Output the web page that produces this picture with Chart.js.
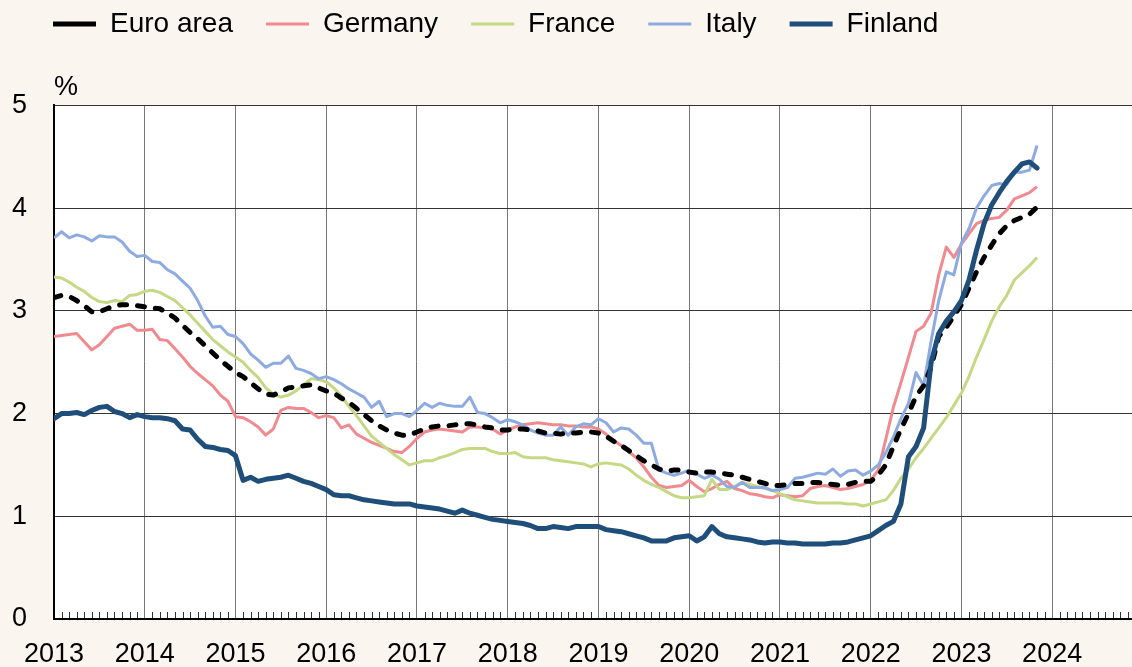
<!DOCTYPE html>
<html>
<head>
<meta charset="utf-8">
<script src="https://cdn.jsdelivr.net/npm/chart.js@4/dist/chart.umd.min.js"></script>
<style>
  html, body { margin: 0; padding: 0; background: #faf5ef; }
  canvas { display: block; }
</style>
</head>
<body>
<canvas id="rateChart" width="1132" height="667"></canvas>
<script>
// Monthly values, Jan 2013 - Nov 2023 (%)
const startYear = 2013;
const yearTicks = [2013, 2014, 2015, 2016, 2017, 2018, 2019, 2020, 2021, 2022, 2023, 2024];
const valueTicks = [0, 1, 2, 3, 4, 5];

const euroArea = [
  3.13, 3.15, 3.14, 3.10, 3.05, 2.99, 2.99, 3.02, 3.05, 3.06, 3.06, 3.05,
  3.04, 3.03, 3.02, 2.98, 2.93, 2.86, 2.79, 2.73, 2.66, 2.59, 2.52, 2.46,
  2.40, 2.36, 2.30, 2.24, 2.19, 2.18, 2.21, 2.25, 2.26, 2.27, 2.28, 2.25,
  2.22, 2.20, 2.15, 2.11, 2.05, 1.99, 1.93, 1.88, 1.84, 1.81, 1.79, 1.79,
  1.82, 1.85, 1.87, 1.88, 1.88, 1.89, 1.90, 1.90, 1.89, 1.87, 1.86, 1.84,
  1.84, 1.85, 1.85, 1.84, 1.83, 1.81, 1.81, 1.80, 1.81, 1.81, 1.82, 1.82,
  1.81, 1.78, 1.73, 1.69, 1.64, 1.59, 1.54, 1.50, 1.46, 1.44, 1.45, 1.45,
  1.43, 1.42, 1.43, 1.43, 1.42, 1.41, 1.40, 1.38, 1.36, 1.34, 1.32, 1.30,
  1.30, 1.31, 1.32, 1.32, 1.33, 1.33, 1.32, 1.31, 1.30, 1.31, 1.33, 1.34,
  1.34, 1.40, 1.50, 1.68, 1.85, 2.00, 2.17, 2.27, 2.45, 2.75, 2.84, 2.95,
  3.06, 3.22, 3.38, 3.52, 3.64, 3.75, 3.83, 3.88, 3.91, 3.94, 4.01
];
const germany = [
  2.75, 2.76, 2.77, 2.78, 2.70, 2.62, 2.67, 2.75, 2.83, 2.85, 2.87, 2.81,
  2.81, 2.82, 2.72, 2.71, 2.63, 2.55, 2.46, 2.39, 2.33, 2.27, 2.18, 2.12,
  1.97, 1.96, 1.92, 1.87, 1.79, 1.85, 2.03, 2.06, 2.05, 2.05, 2.01, 1.96,
  1.98, 1.96, 1.86, 1.89, 1.80, 1.76, 1.72, 1.69, 1.66, 1.63, 1.62, 1.68,
  1.76, 1.82, 1.84, 1.85, 1.84, 1.83, 1.82, 1.87, 1.87, 1.86, 1.85, 1.80,
  1.84, 1.87, 1.89, 1.90, 1.91, 1.90, 1.89, 1.89, 1.88, 1.88, 1.87, 1.87,
  1.85, 1.80, 1.74, 1.69, 1.63, 1.57, 1.48, 1.38, 1.30, 1.28, 1.29, 1.30,
  1.35, 1.29, 1.24, 1.27, 1.31, 1.34, 1.27, 1.25, 1.22, 1.21, 1.19, 1.18,
  1.21, 1.20, 1.19, 1.20, 1.27, 1.29, 1.30, 1.28, 1.26, 1.27, 1.29, 1.31,
  1.35, 1.45, 1.75, 2.06, 2.30, 2.55, 2.80, 2.85, 2.98, 3.35, 3.62, 3.52,
  3.65, 3.75, 3.85, 3.88, 3.90, 3.91, 3.98, 4.09, 4.12, 4.15, 4.21
];
const france = [
  3.33, 3.32, 3.28, 3.23, 3.19, 3.13, 3.09, 3.08, 3.10, 3.09, 3.15, 3.16,
  3.19, 3.20, 3.18, 3.14, 3.10, 3.03, 2.96, 2.88, 2.80, 2.72, 2.66, 2.60,
  2.55, 2.50, 2.42, 2.35, 2.25, 2.19, 2.16, 2.18, 2.22, 2.28, 2.34, 2.33,
  2.31, 2.25, 2.17, 2.07, 1.98, 1.88, 1.78, 1.72, 1.66, 1.60, 1.55, 1.50,
  1.52, 1.54, 1.54, 1.57, 1.59, 1.62, 1.65, 1.66, 1.66, 1.66, 1.63, 1.61,
  1.61, 1.62, 1.58, 1.57, 1.57, 1.57, 1.55, 1.54, 1.53, 1.52, 1.51, 1.48,
  1.51, 1.52, 1.51, 1.50, 1.46, 1.40, 1.35, 1.31, 1.28, 1.24, 1.20, 1.18,
  1.18, 1.19, 1.20, 1.36, 1.26, 1.26, 1.29, 1.33, 1.31, 1.29, 1.27, 1.25,
  1.22, 1.19, 1.16, 1.15, 1.14, 1.13, 1.13, 1.13, 1.13, 1.12, 1.12, 1.10,
  1.12, 1.14, 1.16, 1.25, 1.37, 1.46, 1.57, 1.66, 1.76, 1.86, 1.96, 2.08,
  2.20, 2.36, 2.55, 2.72, 2.90, 3.04, 3.15, 3.30, 3.37, 3.44, 3.52
];
const italy = [
  3.71, 3.77, 3.71, 3.74, 3.72, 3.68, 3.73, 3.72, 3.72, 3.67, 3.58, 3.53,
  3.54, 3.48, 3.47, 3.40, 3.36, 3.29, 3.22, 3.10, 2.95, 2.84, 2.85, 2.77,
  2.75, 2.68, 2.58, 2.52, 2.45, 2.49, 2.49, 2.56, 2.44, 2.42, 2.39, 2.34,
  2.36, 2.33, 2.29, 2.24, 2.20, 2.16, 2.06, 2.12, 1.97, 2.00, 2.00, 1.97,
  2.03, 2.10, 2.06, 2.10, 2.08, 2.07, 2.07, 2.16, 2.01, 2.00, 1.96, 1.91,
  1.94, 1.92, 1.89, 1.84, 1.81, 1.79, 1.79, 1.87, 1.79, 1.87, 1.90, 1.89,
  1.95, 1.91, 1.82, 1.86, 1.85, 1.79, 1.71, 1.71, 1.45, 1.42, 1.40, 1.42,
  1.45, 1.41, 1.37, 1.40, 1.36, 1.29, 1.28, 1.33, 1.28, 1.28, 1.28, 1.25,
  1.26, 1.28, 1.37, 1.38, 1.40, 1.42, 1.41, 1.46, 1.39, 1.44, 1.45, 1.40,
  1.44, 1.50, 1.62, 1.77, 1.95, 2.10, 2.40, 2.27, 2.71, 3.10, 3.38, 3.35,
  3.66, 3.80, 4.00, 4.12, 4.22, 4.24, 4.23, 4.35, 4.35, 4.37, 4.61
];
const finland = [
  1.95, 2.00, 2.00, 2.01, 1.99, 2.03, 2.06, 2.07, 2.02, 2.00, 1.96, 1.99,
  1.97, 1.96, 1.96, 1.95, 1.93, 1.85, 1.84, 1.75, 1.68, 1.67, 1.65, 1.64,
  1.59, 1.35, 1.38, 1.34, 1.36, 1.37, 1.38, 1.40, 1.37, 1.34, 1.32, 1.29,
  1.26, 1.21, 1.20, 1.20, 1.18, 1.16, 1.15, 1.14, 1.13, 1.12, 1.12, 1.12,
  1.10, 1.09, 1.08, 1.07, 1.05, 1.03, 1.06, 1.03, 1.01, 0.99, 0.97, 0.96,
  0.95, 0.94, 0.93, 0.91, 0.88, 0.88, 0.90, 0.89, 0.88, 0.90, 0.90, 0.90,
  0.90, 0.87, 0.86, 0.85, 0.83, 0.81, 0.79, 0.76, 0.76, 0.76, 0.79, 0.80,
  0.81, 0.76, 0.80, 0.90, 0.83, 0.80, 0.79, 0.78, 0.77, 0.75, 0.74, 0.75,
  0.75, 0.74, 0.74, 0.73, 0.73, 0.73, 0.73, 0.74, 0.74, 0.75, 0.77, 0.79,
  0.81, 0.86, 0.91, 0.95, 1.12, 1.58, 1.68, 1.86, 2.50, 2.78, 2.90, 2.99,
  3.10, 3.30, 3.59, 3.85, 4.03, 4.15, 4.26, 4.35, 4.43, 4.45, 4.39
];

const fontFamily = '"Liberation Sans", Arial, sans-serif';

function toPoints(values) {
  return values.map((v, i) => ({ x: startYear + i / 12, y: v }));
}

// white plot area on the cream page
const plotBackground = {
  id: 'plotBackground',
  beforeDraw(chart) {
    const { ctx, chartArea } = chart;
    ctx.save();
    ctx.fillStyle = '#faf5ef';
    ctx.fillRect(0, 0, chart.width, chart.height);
    ctx.fillStyle = '#ffffff';
    ctx.fillRect(chartArea.left, chartArea.top, chartArea.right - chartArea.left, chartArea.bottom - chartArea.top);
    ctx.restore();
  }
};

// small monthly tick marks pointing up from the x axis
const monthTicks = {
  id: 'monthTicks',
  afterDraw(chart) {
    const { ctx, chartArea } = chart;
    const x = chart.scales.x;
    ctx.save();
    ctx.strokeStyle = '#333';
    ctx.lineWidth = 1;
    ctx.beginPath();
    for (let m = 1; startYear + m / 12 < x.max; m++) {
      if (m % 12 === 0) continue;
      const px = Math.round(x.getPixelForValue(startYear + m / 12)) + 0.5;
      ctx.moveTo(px, chartArea.bottom - 1);
      ctx.lineTo(px, chartArea.bottom - 7);
    }
    ctx.stroke();
    ctx.restore();
  }
};

const ctx = document.getElementById('rateChart').getContext('2d');
new Chart(ctx, {
  type: 'line',
  data: {
    datasets: [{
      label: 'Euro area',
      data: toPoints(euroArea),
      borderColor: '#000000',
      borderWidth: 5,
      borderDash: [7, 11],
      borderCapStyle: 'round',
      order: 1
    }, {
      label: 'Germany',
      data: toPoints(germany),
      borderColor: '#f08a8f',
      borderWidth: 3,
      order: 4
    }, {
      label: 'France',
      data: toPoints(france),
      borderColor: '#c5d884',
      borderWidth: 3,
      order: 3
    }, {
      label: 'Italy',
      data: toPoints(italy),
      borderColor: '#8dabe0',
      borderWidth: 3,
      order: 2
    }, {
      label: 'Finland',
      data: toPoints(finland),
      borderColor: '#1e4e79',
      borderWidth: 5,
      borderCapStyle: 'round',
      order: 0
    }]
  },
  options: {
    responsive: false,
    animation: false,
    layout: { padding: { top: -23, left: 20, right: 0, bottom: 0 } },
    elements: {
      point: { radius: 0, hoverRadius: 0 },
      line: { tension: 0, borderJoinStyle: 'round', fill: false }
    },
    scales: {
      x: {
        type: 'linear',
        min: 2013,
        max: 2024.88,
        afterBuildTicks: scale => { scale.ticks = yearTicks.map(v => ({ value: v })); },
        afterFit: scale => { scale.height = 48; },
        ticks: {
          color: '#000',
          font: { family: fontFamily, size: 27 },
          padding: 19,
          maxRotation: 0,
          autoSkip: false,
          callback: v => String(v)
        },
        grid: { color: '#777', lineWidth: 1, drawTicks: false },
        border: { color: '#000', width: 2 }
      },
      y: {
        min: 0,
        max: 5,
        afterBuildTicks: scale => { scale.ticks = valueTicks.map(v => ({ value: v })); },
        afterFit: scale => { scale.width = 34; },
        ticks: {
          color: '#000',
          font: { family: fontFamily, size: 27 },
          mirror: true,
          padding: -42
        },
        grid: { color: '#333', lineWidth: 1, drawTicks: false },
        border: { color: '#000', width: 2 }
      }
    },
    plugins: {
      legend: {
        position: 'top',
        align: 'start',
        labels: {
          usePointStyle: true,
          pointStyle: 'line',
          pointStyleWidth: 43,
          padding: 33,
          color: '#000',
          font: { family: fontFamily, size: 28 },
          sort: (a, b) => a.datasetIndex - b.datasetIndex
        }
      },
      title: {
        display: true,
        text: '%',
        align: 'start',
        fullSize: false,
        weight: 500,
        color: '#000',
        font: { family: fontFamily, size: 27, weight: 'normal' },
        padding: { top: 23, bottom: 2 }
      },
      tooltip: { enabled: false }
    }
  },
  plugins: [plotBackground, monthTicks]
});
</script>
</body>
</html>
